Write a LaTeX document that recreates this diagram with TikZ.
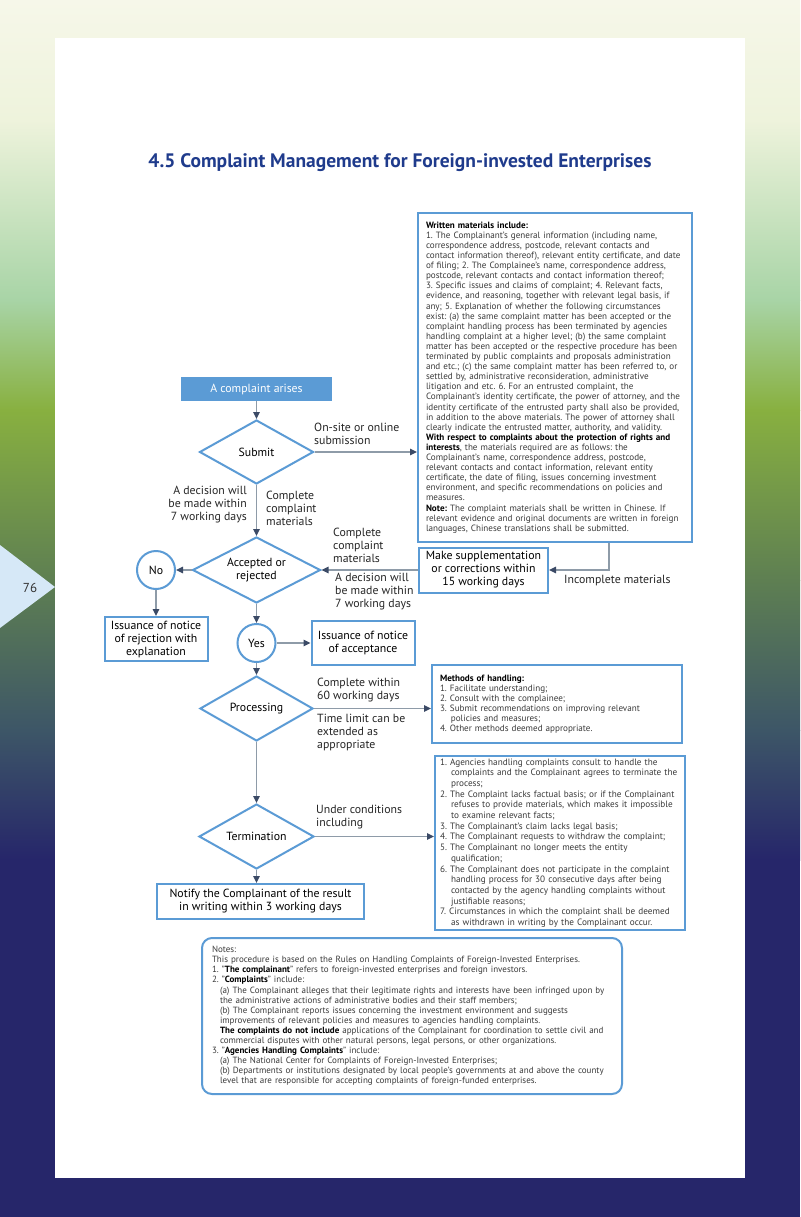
\documentclass[tikz,border=0pt]{standalone}
\usepackage{fontspec}
\setmainfont{PT Sans}
\usetikzlibrary{shapes.geometric,arrows.meta}
\definecolor{boxblue}{HTML}{5B9BD5}
\definecolor{linegray}{HTML}{8E9BA8}
\definecolor{tipnavy}{HTML}{3B4A66}
\definecolor{titleblue}{HTML}{1F3B8C}
\definecolor{textgray}{HTML}{3A3A3A}
\definecolor{bgcream}{HTML}{F6F7E9}
\definecolor{bgpale}{HTML}{EEF3DC}
\definecolor{bgmint}{HTML}{A8D4A6}
\definecolor{bggreen}{HTML}{88B040}
\definecolor{bgmoss}{HTML}{5E7F52}
\definecolor{bgslate}{HTML}{3D5667}
\definecolor{bgnavy}{HTML}{26266A}
\definecolor{tabblue}{HTML}{D6E8F7}
\def\hangin{\hspace*{1.2em}}
\tikzset{
  flowbox/.style={draw=boxblue, line width=2pt, fill=white, align=center,
    inner sep=0pt, font=\fontsize{11.8}{13}\selectfont},
  decide/.style={diamond, aspect=2, draw=boxblue, line width=2pt, fill=white,
    align=center, inner sep=0pt, font=\fontsize{11.8}{13}\selectfont},
  yesno/.style={circle, draw=boxblue, line width=2pt, fill=white, minimum size=38pt,
    inner sep=0pt, font=\fontsize{11.8}{13}\selectfont},
  conn/.style={draw=linegray, line width=1.3pt,
    -{Triangle[length=7pt,width=6.5pt,color=tipnavy]}},
  lbl/.style={inner sep=0pt, text=black!85, font=\fontsize{11.8}{13}\selectfont},
  infobox/.style={draw=boxblue, line width=2pt, fill=white, align=left,
    text=textgray, inner ysep=0pt},
}

\begin{document}
\frenchspacing
\begin{tikzpicture}[x=1pt, y=-1pt]
  %%%%% PAGE %%%%%
  \useasboundingbox (0,0) rectangle (800,1217);
  \shade[top color=bgcream, bottom color=bgpale] (0,0) rectangle (800,120);
  \shade[top color=bgpale, bottom color=bgmint] (0,120) rectangle (800,300);
  \shade[top color=bgmint, bottom color=bggreen] (0,300) rectangle (800,410);
  \shade[top color=bggreen, bottom color=bgmoss] (0,410) rectangle (800,580);
  \shade[top color=bgmoss, bottom color=bgslate] (0,580) rectangle (800,730);
  \shade[top color=bgslate, bottom color=bgnavy] (0,730) rectangle (800,860);
  \fill[bgnavy] (0,860) rectangle (800,1217);
  \fill[white] (55,38) rectangle (745,1178);
  \fill[tabblue] (0,545) -- (55,587) -- (0,628) -- cycle;
  \node[text=black!80, font=\fontsize{13}{15}\selectfont] (pageno) at (30,588) {76};

  \node[text=titleblue, font=\fontsize{19.5}{22}\selectfont\bfseries] (title) at (400,163)
    {4.5 Complaint Management for Foreign-invested Enterprises};

  %%%%% FLOW %%%%%
  \node[fill=boxblue, text=white, minimum width=151pt, minimum height=24pt, inner sep=0pt,
    font=\fontsize{11.8}{13}\selectfont] (arises) at (256.5,389) {A complaint arises};
  \node[decide, minimum width=114pt, minimum height=64pt] (submit) at (256.5,452) {Submit};
  \node[decide, minimum width=128pt, minimum height=66pt] (accept) at (256.5,570) {Accepted or\\rejected};
  \node[yesno] (no) at (156,570) {No};
  \node[flowbox, minimum width=103pt, minimum height=44pt] (reject) at (156,639)
    {Issuance of notice\\of rejection with\\explanation};
  \node[yesno] (yes) at (256.5,643) {Yes};
  \node[flowbox, minimum width=103pt, minimum height=44pt] (accepted) at (363,643)
    {Issuance of notice\\of acceptance};
  \node[flowbox, minimum width=129pt, minimum height=45pt] (supp) at (483.5,570)
    {Make supplementation\\or corrections within\\15 working days};
  \node[decide, minimum width=113pt, minimum height=65pt] (proc) at (256.5,708.5) {Processing};
  \node[decide, minimum width=115pt, minimum height=65pt] (term) at (256.5,836.5) {Termination};
  \node[flowbox, minimum width=207pt, minimum height=35pt] (notify) at (260.5,901.5)
    {Notify the Complainant of the result\\in writing within 3 working days};

  %%%%% TEXT BOXES %%%%%
  \node[infobox, text width=258pt, inner xsep=8pt, minimum height=329pt,
    font=\fontsize{9.1}{10.1}\selectfont] (written) at (555,377.5) {%
    \textbf{\color{black}Written materials include:}\\
    1. The Complainant's general information (including name,\\
    correspondence address, postcode, relevant contacts and\\
    contact information thereof), relevant entity certificate, and date\\
    of filing; 2. The Complainee's name, correspondence address,\\
    postcode, relevant contacts and contact information thereof;\\
    3. Specific issues and claims of complaint; 4. Relevant facts,\\
    evidence, and reasoning, together with relevant legal basis, if\\
    any; 5. Explanation of whether the following circumstances\\
    exist: (a) the same complaint matter has been accepted or the\\
    complaint handling process has been terminated by agencies\\
    handling complaint at a higher level; (b) the same complaint\\
    matter has been accepted or the respective procedure has been\\
    terminated by public complaints and proposals administration\\
    and etc.; (c) the same complaint matter has been referred to, or\\
    settled by, administrative reconsideration, administrative\\
    litigation and etc. 6. For an entrusted complaint, the\\
    Complainant's identity certificate, the power of attorney, and the\\
    identity certificate of the entrusted party shall also be provided,\\
    in addition to the above materials. The power of attorney shall\\
    clearly indicate the entrusted matter, authority, and validity.\\
    \textbf{\color{black}With respect to complaints about the protection of rights and}\\
    \textbf{\color{black}interests}, the materials required are as follows: the\\
    Complainant's name, correspondence address, postcode,\\
    relevant contacts and contact information, relevant entity\\
    certificate, the date of filing, issues concerning investment\\
    environment, and specific recommendations on policies and\\
    measures.\\
    \textbf{\color{black}Note:} The complaint materials shall be written in Chinese. If\\
    relevant evidence and original documents are written in foreign\\
    languages, Chinese translations shall be submitted.};

  \node[infobox, text width=234pt, inner xsep=8pt, minimum height=78pt,
    font=\fontsize{9.1}{10}\selectfont] (methods) at (557,704) {%
    \textbf{\color{black}Methods of handling:}\\
    1. Facilitate understanding;\\
    2. Consult with the complainee;\\
    3. Submit recommendations on improving relevant\\
    \hangin policies and measures;\\
    4. Other methods deemed appropriate.};

  \node[infobox, text width=240pt, inner xsep=5pt, minimum height=174pt,
    font=\fontsize{9.2}{10.7}\selectfont] (cond) at (560,843) {%
    1. Agencies handling complaints consult to handle the\\
    \hangin complaints and the Complainant agrees to terminate the\\
    \hangin process;\\
    2. The Complaint lacks factual basis; or if the Complainant\\
    \hangin refuses to provide materials, which makes it impossible\\
    \hangin to examine relevant facts;\\
    3. The Complainant's claim lacks legal basis;\\
    4. The Complainant requests to withdraw the complaint;\\
    5. The Complainant no longer meets the entity\\
    \hangin qualification;\\
    6. The Complainant does not participate in the complaint\\
    \hangin handling process for 30 consecutive days after being\\
    \hangin contacted by the agency handling complaints without\\
    \hangin justifiable reasons;\\
    7. Circumstances in which the complaint shall be deemed\\
    \hangin as withdrawn in writing by the Complainant occur.};

  \node[infobox, rounded corners=10pt, text width=400pt, inner xsep=10pt, minimum height=156pt,
    font=\fontsize{9}{10.1}\selectfont] (notes) at (412,1016) {%
    Notes:\\
    This procedure is based on the Rules on Handling Complaints of Foreign-Invested Enterprises.\\
    1. "\textbf{\color{black}The complainant}" refers to foreign-invested enterprises and foreign investors.\\
    2. "\textbf{\color{black}Complaints}" include:\\
    \hspace*{8pt}(a) The Complainant alleges that their legitimate rights and interests have been infringed upon by\\
    \hspace*{8pt}the administrative actions of administrative bodies and their staff members;\\
    \hspace*{8pt}(b) The Complainant reports issues concerning the investment environment and suggests\\
    \hspace*{8pt}improvements of relevant policies and measures to agencies handling complaints.\\
    \hspace*{8pt}\textbf{\color{black}The complaints do not include} applications of the Complainant for coordination to settle civil and\\
    \hspace*{8pt}commercial disputes with other natural persons, legal persons, or other organizations.\\
    3. "\textbf{\color{black}Agencies Handling Complaints}" include:\\
    \hspace*{8pt}(a) The National Center for Complaints of Foreign-Invested Enterprises;\\
    \hspace*{8pt}(b) Departments or institutions designated by local people's governments at and above the county\\
    \hspace*{8pt}level that are responsible for accepting complaints of foreign-funded enterprises.};

  %%%%% LABELS %%%%%
  \node[lbl, anchor=west, align=left] (lblsubmit) at (314,434) {On-site or online\\submission};
  \node[lbl, anchor=east, align=right] (lbldecide) at (247,505) {A decision will\\be made within\\7 working days};
  \node[lbl, anchor=west, align=left] (lblcomplete) at (266,508) {Complete\\complaint\\materials};
  \node[lbl, anchor=west, align=left] (lblcomplete2) at (333,545) {Complete\\complaint\\materials};
  \node[lbl, anchor=west, align=left] (lbldecide2) at (335,592) {A decision will\\be made within\\7 working days};
  \node[lbl, anchor=west] (lblincomplete) at (564,580) {Incomplete materials};
  \node[lbl, anchor=west, align=left] (lblsixty) at (317,690) {Complete within\\60 working days};
  \node[lbl, anchor=west, align=left] (lblextend) at (317,732) {Time limit can be\\extended as\\appropriate};
  \node[lbl, anchor=west, align=left] (lblcond) at (316,817) {Under conditions\\including};

  %%%%% CONNECTORS %%%%%
  \draw[conn] (arises.south) -- (submit.north);
  \draw[conn] (submit.east) -- (submit.east -| written.west);
  \draw[conn] (submit.south) -- (accept.north);
  \draw[conn] ([xshift=54pt]written.south) |- (supp.east);
  \draw[conn] (supp.west) -- (accept.east);
  \draw[conn] (accept.west) -- (no.east);
  \draw[conn] (no.south) -- (reject.north);
  \draw[conn] (accept.south) -- (yes.north);
  \draw[conn] (yes.east) -- (accepted.west);
  \draw[conn] (yes.south) -- (proc.north);
  \draw[conn] (proc.east) -- (proc.east -| methods.west);
  \draw[conn] (proc.south) -- (term.north);
  \draw[conn] (term.east) -- (term.east -| cond.west);
  \draw[conn] (term.south) -- (term.south |- notify.north);
\end{tikzpicture}
\end{document}
